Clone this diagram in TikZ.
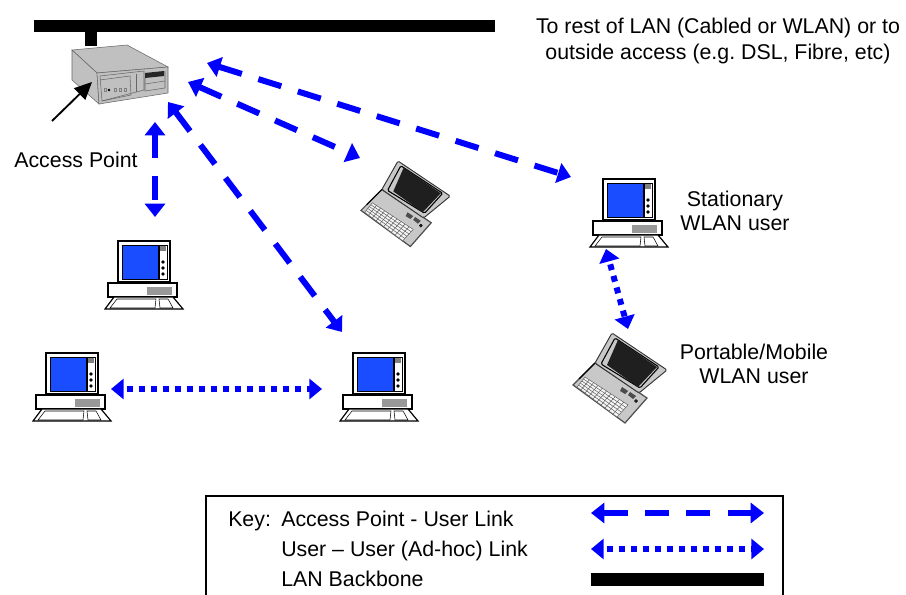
\documentclass[tikz,border=0pt]{standalone}
\usepackage{fontspec}
\setmainfont{Liberation Sans}
\usetikzlibrary{arrows.meta}
\definecolor{linkblue}{RGB}{0,0,255}
\definecolor{screenblue}{RGB}{26,77,255}
\definecolor{casegrey}{RGB}{192,192,192}
\definecolor{lapgrey}{RGB}{200,200,200}
\tikzset{
  label/.style={font=\fontsize{16}{18}\selectfont\frenchspacing, inner sep=0pt, align=center},
  aplink/.style={linkblue, line width=4.5pt, dash pattern=on 18pt off 13pt,
    {Triangle[length=10pt,width=15pt]}-{Triangle[length=10pt,width=15pt]}},
  adhoc/.style={linkblue, line width=4.5pt, dash pattern=on 4.5pt off 4.5pt, dash phase=6pt,
    {Triangle[length=9.5pt,width=15pt]}-{Triangle[length=9.5pt,width=15pt]}},
  desktop/.pic={
    \draw[line width=.9pt,fill=white] (0,0) rectangle (52,41);
    \draw[fill=screenblue] (4,4) rectangle (40,38);
    \draw[fill=white] (41,4) rectangle (49,38);
    \fill[gray] (42,5) rectangle (48,10);
    \foreach \y in {21,27,33} {
      \draw[thick] (45,\y) circle (1.2);
    }
    \draw[line width=.9pt,fill=white] (-10,42) rectangle (59,56);
    \fill[gray!80] (29,46) rectangle (54,54);
    \draw[line width=.9pt,fill=white] (-13,68) -- (-4,56) -- (55,56) -- (65,68) -- cycle;
    \draw (-8,67) -- (-1,58) -- (38,58) -- (37,67) -- cycle;
    \draw (41,58) -- (50,58) -- (55,67) -- (42,67) -- cycle;
  },
  laptop/.pic={
    % base
    \draw[gray!60!black,line width=.9pt,fill=lapgrey] (-17,30) -- (-39,52) -- (13,90) -- (35,65) -- cycle;
    \draw[black,line width=.9pt] (-17,30) -- (-33,46);
    \fill[white!92!gray] (-27,44) -- (16,72) -- (5,84) -- (-35,54) -- cycle;
    \foreach \t in {0,.1,...,1.01} {
      \draw[gray!70!black,line width=.35pt] ({-27+\t*43},{44+\t*28}) -- ({-35+\t*40},{54+\t*30});
    }
    \foreach \t in {0,.2,...,1.01} {
      \draw[gray!70!black,line width=.35pt] ({-27-\t*8},{44+\t*10}) -- ({16-\t*11},{72+\t*12});
    }
    \fill[gray!60!black] (10,54) -- (16,58) -- (13,61) -- (8,58) -- cycle;
    \fill[gray!60!black] (18,59) -- (24,63) -- (21,66) -- (16,62) -- cycle;
    \draw[fill=black!80] (24,68) circle (1.5);
    % lid
    \draw[gray!40!black,line width=.7pt,fill=lapgrey,rounded corners=1pt] (0,0) -- (55,37) -- (27,60) -- (-17,30) -- cycle;
    \draw[line width=.8pt,rounded corners=1pt] (3,5) -- (47,34) -- (28,55) -- (-11,31) -- cycle;
    \fill[black!88] (6,7) -- (45,34) -- (26,54) -- (-5,32) -- cycle;
  }
}
\begin{document}
\begin{tikzpicture}[x=.75pt,y=-.75pt]
\useasboundingbox (0,0) rectangle (906,595);
% backbone
\fill[black] (85,30) rectangle (97,46);
\fill[black] (34,20) rectangle (495,32);
% access point
\draw[gray!80!black,fill=casegrey] (72,50) -- (127,45) -- (168,67) -- (97,73) -- cycle;
\draw[gray!80!black,fill=casegrey] (72,50) -- (97,73) -- (99,104) -- (72,80) -- cycle;
\draw[gray!80!black,fill=casegrey] (97,73) -- (168,67) -- (168,93) -- (99,104) -- cycle;
\draw[gray!80!black] (100,76) -- (144,71) -- (144,90) -- (102,101) -- cycle;
\draw[gray!80!black] (100,80) -- (130,76) -- (131,95) -- (102,101);
\draw[gray!80!black] (136,74) -- (136,92);
\fill[gray!30!black] (145,73) -- (164,71) -- (164,76) -- (145,78) -- cycle;
\draw[gray!80!black] (145,78) -- (145,91) -- (165,88) -- (165,71);
\draw[gray!80!black] (145,84) -- (165,81);
\fill[black] (109,90) circle (1.4);
\foreach \x in {104,114,119,124} {
 \draw[gray] (\x,88) rectangle ++(2,3);
}
\coordinate (apS) at (155,122);
\coordinate (apB) at (168,102);
\coordinate (apC) at (188,82);
\coordinate (apD) at (207,63);
\coordinate (apTip) at (92,82);
\coordinate (apTail) at (52,121);
\draw[black,line width=1.4pt,-{Triangle[length=13pt,width=12pt]}] (apTail) -- (apTip);
\node[label] (aplabel) at (76,160) {Access Point};
% users
\pic (pcA) at (118,241) {desktop};
\pic (pcB) at (46,353) {desktop};
\pic (pcC) at (353,353) {desktop};
\pic (pcD) at (603,179) {desktop};
\pic[scale=.95] (lapA) at (398,161) {laptop};
\pic (lapB) at (612,333) {laptop};
\coordinate (pcAtop) at (155,217);
\coordinate (pcCtop) at (342,332);
\coordinate (lapAtip) at (360,158);
\coordinate (pcDtip) at (571,177);
\coordinate (pcBr) at (111,389);
\coordinate (pcCl) at (322,389);
\coordinate (pcDbot) at (606,249);
\coordinate (lapBtop) at (628,329);
% links
\draw[aplink] (apS) -- (pcAtop);
\draw[aplink] (apB) -- (pcCtop);
\draw[aplink] (apC) -- (lapAtip);
\draw[aplink] (apD) -- (pcDtip);
\draw[adhoc] (pcBr) -- (pcCl);
\draw[adhoc] (pcDbot) -- (lapBtop);
% labels
\node[label] (resttext) at (718,41) {To rest of LAN (Cabled or WLAN) or to\\[1.5pt]outside access (e.g. DSL, Fibre, etc)};
\node[label] (fixedtext) at (735,211) {Stationary\\WLAN user};
\node[label] (mobiletext) at (754,364) {Portable/Mobile\\WLAN user};
% key
\draw[black,line width=1.1pt] (206,595) -- (206,496) -- (783,496) -- (783,595);
\node[label,anchor=base west] (keytext) at (228,526) {Key:};
\node[label,anchor=base west] (keyap) at (281,526) {Access Point - User Link};
\node[label,anchor=base west] (keyuser) at (281,556) {User – User (Ad-hoc) Link};
\node[label,anchor=base west] (keylan) at (281,586) {LAN Backbone};
\coordinate (kA1) at (591,513);
\coordinate (kA2) at (764,513);
\coordinate (kB1) at (591,549);
\coordinate (kB2) at (764,549);
\draw[aplink] (kA1) -- (kA2);
\draw[adhoc] (kB1) -- (kB2);
\fill[black] (591,573) rectangle (764,586);
\end{tikzpicture}
\end{document}
